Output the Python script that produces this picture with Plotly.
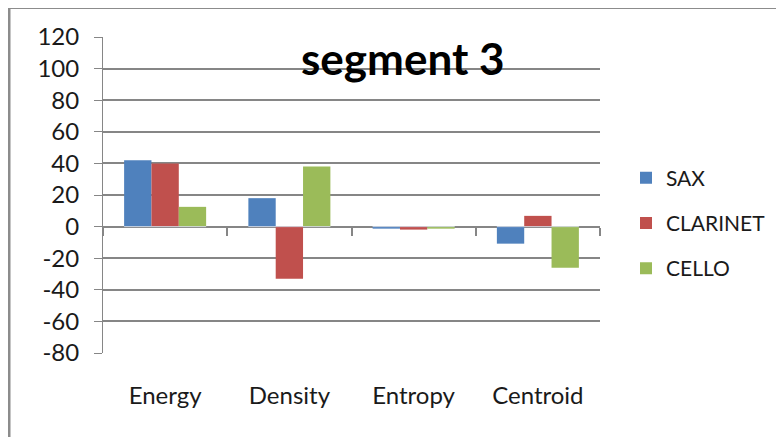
import plotly.graph_objects as go

kategorie = ["Energy", "Density", "Entropy", "Centroid"]
sax = [42, 18, -1.3, -10.8]
clarinet = [40, -33, -1.9, 6.8]
cello = [12.5, 38, -1.3, -26]
y_hodnoty = [120, 100, 80, 60, 40, 20, 0, -20, -40, -60, -80]
y_popisky = ["120", "100", "80", "60", "40", "20", "0", "-20", "-40", "-60", "-80"]

serie = [
    ("SAX", sax, "#4F81BD"),
    ("CLARINET", clarinet, "#C0504D"),
    ("CELLO", cello, "#9BBB59"),
]

seda = "#868686"
pismo = "Lato, Calibri, sans-serif"

fig = go.Figure()
for nazev, hodnoty, barva in serie:
    fig.add_trace(
        go.Bar(
            x=kategorie,
            y=hodnoty,
            name=nazev,
            marker=dict(color=barva, line=dict(width=0)),
            legendgroup=nazev,
        )
    )

# stránka má okraj 8 px, proto je vše posunuto o 8 px vlevo a nahoru
POSUN = 8
L, R, T, B = 103 - POSUN, 600 - POSUN, 37 - POSUN, 353 - POSUN
W, H = R - L, B - T


def px_x(p):
    return (p - POSUN - L) / W


def px_y(p):
    return (B - (p - POSUN)) / H


fig.update_layout(
    width=784,
    height=437,
    margin=dict(l=L, r=784 - R, t=T, b=437 - B, autoexpand=False),
    paper_bgcolor="white",
    plot_bgcolor="white",
    barmode="group",
    bargap=0.34,
    bargroupgap=0,
    font=dict(family=pismo, size=22, color="#1a1a1a"),
    xaxis=dict(
        type="category",
        showgrid=False,
        showline=False,
        ticks="",
        ticklabelstandoff=26,
        tickfont=dict(size=24),
        automargin=False,
    ),
    xaxis2=dict(
        type="category",
        overlaying="x",
        anchor="free",
        position=0.4,
        side="bottom",
        matches="x",
        showticklabels=False,
        showline=False,
        ticks="outside",
        tickson="boundaries",
        ticklen=8,
        tickcolor=seda,
        tickwidth=1.5,
        showgrid=False,
        automargin=False,
    ),
    yaxis=dict(
        range=[-80, 120],
        tickmode="array",
        tickvals=y_hodnoty,
        ticktext=y_popisky,
        showgrid=True,
        gridcolor=seda,
        gridwidth=1.5,
        zeroline=True,
        zerolinecolor=seda,
        zerolinewidth=2,
        showline=True,
        linecolor=seda,
        linewidth=1,
        ticks="outside",
        ticklen=8,
        tickcolor=seda,
        ticklabelstandoff=10,
        tickfont=dict(size=24),
        automargin=False,
    ),
    legend=dict(
        x=px_x(626),
        y=px_y(223),
        xanchor="left",
        yanchor="middle",
        tracegroupgap=15,
        font=dict(size=21),
    ),
    showlegend=True,
    annotations=[
        dict(
            text="<b>segment 3</b>",
            x=px_x(403),
            y=px_y(58),
            xref="paper",
            yref="paper",
            xanchor="center",
            yanchor="middle",
            showarrow=False,
            font=dict(family=pismo, size=44, color="black"),
        )
    ],
    shapes=[
        dict(
            type="path",
            xref="paper",
            yref="paper",
            path=f"M {px_x(9)} {px_y(445)} L {px_x(9)} {px_y(7.5)} L {px_x(800)} {px_y(7.5)}",
            line=dict(color="#8c8c8c", width=3),
            layer="above",
        )
    ],
)

# pomocná stopa pro dělicí značky na nulové ose
fig.add_trace(
    go.Bar(x=kategorie, y=[0, 0, 0, 0], xaxis="x2", showlegend=False, hoverinfo="skip")
)

fig.write_html("out.html")
